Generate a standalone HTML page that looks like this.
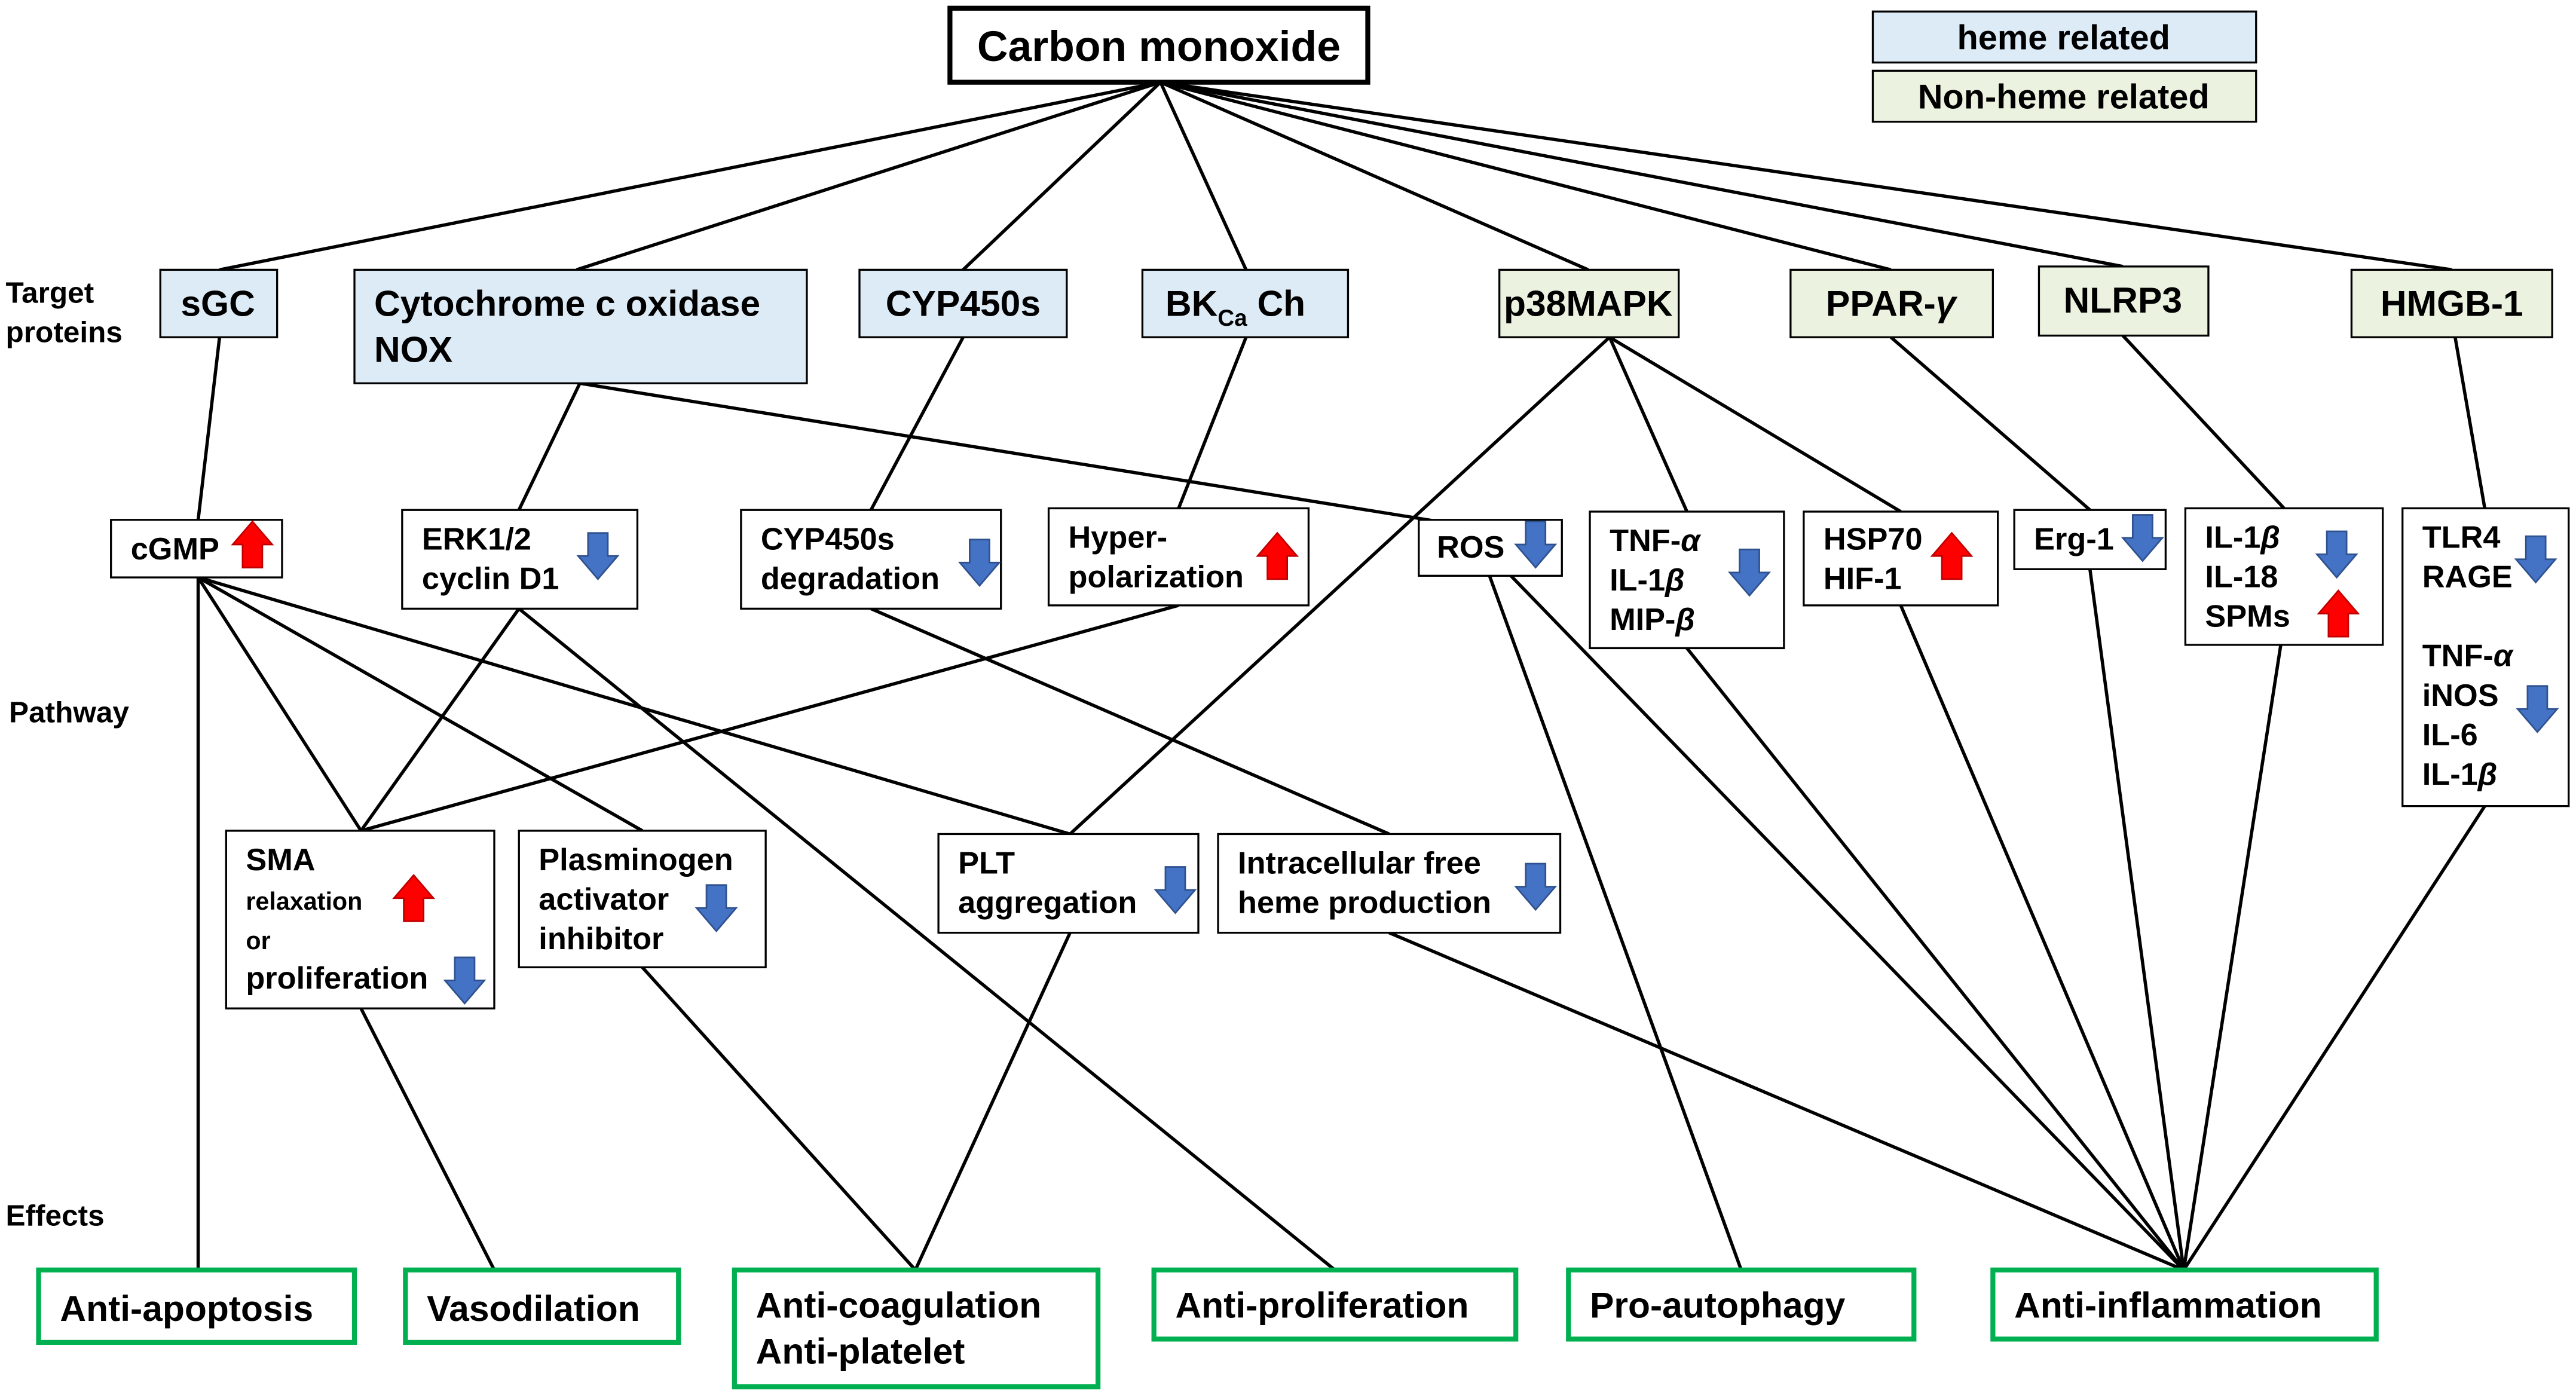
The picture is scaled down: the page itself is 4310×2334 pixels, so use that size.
<!DOCTYPE html>
<html><head><meta charset="utf-8"><style>
html,body{margin:0;padding:0;background:#fff;}
svg{display:block;}
text{font-family:"Liberation Sans","DejaVu Sans",sans-serif;fill:#000;font-weight:bold;}
</style></head><body>
<svg width="4310" height="2334" viewBox="0 0 1565 848" xmlns="http://www.w3.org/2000/svg">
<defs>
<path id="dn" d="M-6,-14 H6 V0 H12 L0,14 L-12,0 H-6 Z" fill="#4472c4" stroke="#2f528f" stroke-width="1"/>
<path id="up" d="M-6,14 H6 V0 H12 L0,-14 L-12,0 H-6 Z" fill="#ff0000" stroke="#c00000" stroke-width="1"/>
</defs>
<g stroke="#000" stroke-width="2" fill="none">
<line x1="705" y1="50" x2="133" y2="164"/>
<line x1="705" y1="50" x2="350" y2="164"/>
<line x1="705" y1="50" x2="585" y2="164"/>
<line x1="705" y1="50" x2="757" y2="164"/>
<line x1="705" y1="50" x2="965" y2="164"/>
<line x1="705" y1="50" x2="1149" y2="164"/>
<line x1="705" y1="50" x2="1290" y2="162"/>
<line x1="705" y1="50" x2="1490" y2="164"/>
<line x1="133" y1="205" x2="120" y2="316"/>
<line x1="352" y1="233" x2="315" y2="310"/>
<line x1="352" y1="233" x2="880" y2="318"/>
<line x1="585" y1="205" x2="529" y2="310"/>
<line x1="757" y1="205" x2="716" y2="309"/>
<line x1="978" y1="205" x2="1025" y2="311"/>
<line x1="978" y1="205" x2="1155" y2="311"/>
<line x1="978" y1="205" x2="650" y2="507"/>
<line x1="1149" y1="205" x2="1270" y2="310"/>
<line x1="1290" y1="204" x2="1388" y2="309"/>
<line x1="1492" y1="205" x2="1510" y2="309"/>
<line x1="120" y1="351" x2="120" y2="772"/>
<line x1="120" y1="351" x2="219" y2="505"/>
<line x1="120" y1="351" x2="390" y2="505"/>
<line x1="120" y1="351" x2="650" y2="507"/>
<line x1="315" y1="370" x2="219" y2="505"/>
<line x1="315" y1="370" x2="811" y2="772"/>
<line x1="716" y1="368" x2="219" y2="505"/>
<line x1="529" y1="370" x2="844" y2="507"/>
<line x1="219" y1="613" x2="300" y2="772"/>
<line x1="390" y1="588" x2="556" y2="772"/>
<line x1="650" y1="567" x2="556" y2="772"/>
<line x1="844" y1="567" x2="1327" y2="772"/>
<line x1="905" y1="350" x2="1058" y2="772"/>
<line x1="918" y1="350" x2="1327" y2="772"/>
<line x1="1025" y1="394" x2="1327" y2="772"/>
<line x1="1155" y1="368" x2="1327" y2="772"/>
<line x1="1270" y1="346" x2="1327" y2="772"/>
<line x1="1386" y1="392" x2="1327" y2="772"/>
<line x1="1510" y1="490" x2="1327" y2="772"/>
</g>
<rect x="577" y="5" width="254" height="45" fill="#fff" stroke="#000" stroke-width="3"/>
<text x="704" y="37" font-size="26" text-anchor="middle">Carbon monoxide</text>
<rect x="1138" y="7" width="233" height="31" fill="#ddebf7" stroke="#000" stroke-width="1.2"/>
<text x="1254" y="30" font-size="21" text-anchor="middle">heme related</text>
<rect x="1138" y="43" width="233" height="31" fill="#ebf3e0" stroke="#000" stroke-width="1.2"/>
<text x="1254" y="66" font-size="21" text-anchor="middle">Non-heme related</text>
<g font-size="18">
<text x="3" y="184">Target</text><text x="3" y="208">proteins</text>
<text x="5" y="439">Pathway</text>
<text x="3" y="745">Effects</text>
</g>
<g stroke="#000" stroke-width="1.2">
<rect x="97" y="164" width="71" height="41" fill="#ddebf7"/>
<rect x="215" y="164" width="275" height="69" fill="#ddebf7"/>
<rect x="522" y="164" width="126" height="41" fill="#ddebf7"/>
<rect x="694" y="164" width="125" height="41" fill="#ddebf7"/>
<rect x="911" y="164" width="109" height="41" fill="#ebf3e0"/>
<rect x="1088" y="164" width="123" height="41" fill="#ebf3e0"/>
<rect x="1239" y="162" width="103" height="42" fill="#ebf3e0"/>
<rect x="1429" y="164" width="122" height="41" fill="#ebf3e0"/>
</g>
<g font-size="22">
<text x="132" y="192" text-anchor="middle">sGC</text>
<text x="227" y="192">Cytochrome c oxidase</text>
<text x="227" y="220">NOX</text>
<text x="585" y="192" text-anchor="middle">CYP450s</text>
<text x="708" y="192">BK<tspan font-size="14" dy="6">Ca</tspan><tspan dy="-6"> Ch</tspan></text>
<text x="965" y="192" text-anchor="middle">p38MAPK</text>
<text x="1149" y="192" text-anchor="middle">PPAR-<tspan font-style="italic">γ</tspan></text>
<text x="1290" y="190" text-anchor="middle">NLRP3</text>
<text x="1490" y="192" text-anchor="middle">HMGB-1</text>
</g>
<g stroke="#000" stroke-width="1.2" fill="#fff">
<rect x="67" y="316" width="104" height="35"/>
<rect x="244" y="310" width="143" height="60"/>
<rect x="450" y="310" width="158" height="60"/>
<rect x="637" y="309" width="158" height="59"/>
<rect x="862" y="316" width="87" height="34"/>
<rect x="966" y="311" width="118" height="83"/>
<rect x="1096" y="311" width="118" height="57"/>
<rect x="1224" y="310" width="92" height="36"/>
<rect x="1328" y="309" width="120" height="83"/>
<rect x="1460" y="309" width="101" height="181"/>
<rect x="137" y="505" width="163" height="108"/>
<rect x="315" y="505" width="150" height="83"/>
<rect x="570" y="507" width="158" height="60"/>
<rect x="740" y="507" width="208" height="60"/>
</g>
<g font-size="19">
<text x="79" y="340">cGMP</text>
<text x="256" y="334">ERK1/2</text><text x="256" y="358">cyclin D1</text>
<text x="462" y="334">CYP450s</text><text x="462" y="358">degradation</text>
<text x="649" y="333">Hyper-</text><text x="649" y="357">polarization</text>
<text x="873" y="339">ROS</text>
<text x="978" y="335">TNF-<tspan font-style="italic">α</tspan></text>
<text x="978" y="359">IL-1<tspan font-style="italic">β</tspan></text>
<text x="978" y="383">MIP-<tspan font-style="italic">β</tspan></text>
<text x="1108" y="334">HSP70</text><text x="1108" y="358">HIF-1</text>
<text x="1236" y="334">Erg-1</text>
<text x="1340" y="333">IL-1<tspan font-style="italic">β</tspan></text>
<text x="1340" y="357">IL-18</text>
<text x="1340" y="381">SPMs</text>
<text x="1472" y="333">TLR4</text><text x="1472" y="357">RAGE</text>
<text x="1472" y="405">TNF-<tspan font-style="italic">α</tspan></text>
<text x="1472" y="429">iNOS</text>
<text x="1472" y="453">IL-6</text>
<text x="1472" y="477">IL-1<tspan font-style="italic">β</tspan></text>
<text x="149" y="529">SMA</text>
<text x="149" y="553" font-size="15">relaxation</text>
<text x="149" y="577" font-size="15">or</text>
<text x="149" y="601">proliferation</text>
<text x="327" y="529">Plasminogen</text>
<text x="327" y="553">activator</text>
<text x="327" y="577">inhibitor</text>
<text x="582" y="531">PLT</text><text x="582" y="555">aggregation</text>
<text x="752" y="531">Intracellular free</text><text x="752" y="555">heme production</text>
</g>
<use href="#up" x="153" y="331"/>
<use href="#dn" x="363" y="338"/>
<use href="#dn" x="595" y="342"/>
<use href="#up" x="776" y="338"/>
<use href="#dn" x="933" y="331"/>
<use href="#dn" x="1063" y="348"/>
<use href="#up" x="1186" y="338"/>
<use href="#dn" x="1302" y="327"/>
<use href="#dn" x="1420" y="337"/>
<use href="#up" x="1421" y="373"/>
<use href="#dn" x="1541" y="340"/>
<use href="#dn" x="1542" y="431"/>
<use href="#up" x="251" y="546"/>
<use href="#dn" x="282" y="596"/>
<use href="#dn" x="435" y="552"/>
<use href="#dn" x="714" y="541"/>
<use href="#dn" x="933" y="539"/>
<g stroke="#00b050" stroke-width="3" fill="#fff">
<rect x="23" y="772" width="192" height="44"/>
<rect x="246" y="772" width="166" height="44"/>
<rect x="446" y="772" width="221" height="71"/>
<rect x="701" y="772" width="220" height="42"/>
<rect x="953" y="772" width="210" height="42"/>
<rect x="1211" y="772" width="233" height="42"/>
</g>
<g font-size="22">
<text x="36" y="803">Anti-apoptosis</text>
<text x="259" y="803">Vasodilation</text>
<text x="459" y="801">Anti-coagulation</text>
<text x="459" y="829">Anti-platelet</text>
<text x="714" y="801">Anti-proliferation</text>
<text x="966" y="801">Pro-autophagy</text>
<text x="1224" y="801">Anti-inflammation</text>
</g>
</svg>
</body></html>
